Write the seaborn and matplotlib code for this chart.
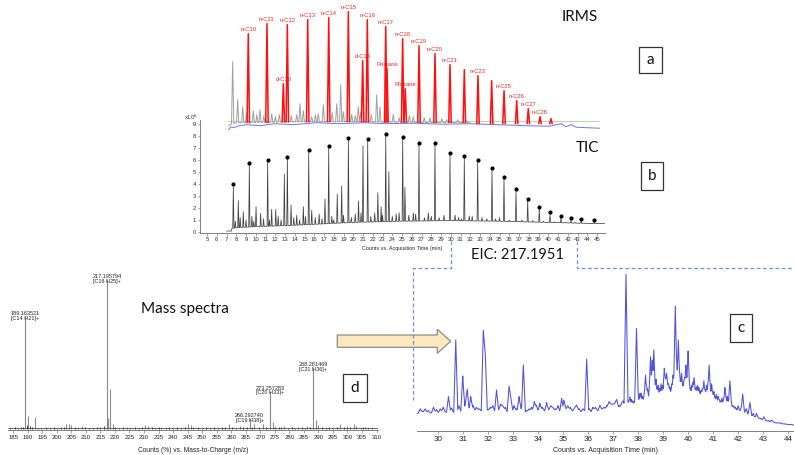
import numpy as np
import pandas as pd
import matplotlib
matplotlib.use("Agg")
import matplotlib.pyplot as plt
from matplotlib.patches import Rectangle, Polygon
import seaborn as sns

# ---------------- data ----------------
# (a) IRMS trace (time in min, signal in arbitrary units)
irms_red_labels = ["n-C10", "n-C11", "n-C12", "n-C13", "n-C14", "n-C15", "n-C16", "n-C17",
                   "n-C18", "n-C19", "n-C20", "n-C21", "", "n-C23", "", "n-C25", "n-C26",
                   "n-C27", "n-C28", "", "d-C10", "d-C16", "Pristane", "Phytane"]
irms_red_t = [9.18, 11.19, 13.38, 15.57, 17.83, 19.94, 21.98, 23.96,
              25.78, 27.54, 29.26, 30.87, 32.41, 33.88, 35.35, 36.68, 38.04,
              39.29, 40.55, 41.73, 12.95, 21.48, 24.10, 26.06]
irms_red_h = [93, 103, 102, 107, 109, 115, 107, 100,
              88, 81, 73, 62, 57, 51, 46, 36, 26,
              18, 10, 8, 43, 66, 58, 38]
irms_gray_t = [7.50, 8.04, 8.58, 9.00, 9.72, 10.10, 10.44, 10.85, 11.70, 12.10,
               12.52, 13.80, 14.39, 14.74, 15.10, 16.00, 16.40, 16.71, 17.25, 18.20,
               18.69, 19.12, 19.40, 20.30, 20.70, 21.01, 21.27, 22.40, 22.99, 23.34,
               24.77, 25.40, 26.50, 26.92, 28.10, 28.72, 30.00, 30.51, 31.70, 32.66]
irms_gray_h = [65, 27, 20, 14, 16, 12, 17, 11, 13, 10,
               12, 11, 12, 23, 16, 10, 12, 13, 22, 14,
               23, 42, 15, 12, 11, 20, 15, 12, 32, 20,
               12, 9, 11, 10, 9, 9, 8, 7, 7, 6]
irms_base_t = [7.0, 7.4, 8.0, 10.0, 14.0, 20.0, 26.0, 33.0]
irms_base_v = [1, 3, 4, 4, 5, 5, 4.5, 4]
irms_blue_t = [7.0, 7.3, 7.6, 8.2, 9.0, 10.5, 12.0, 14.0, 16.5, 19.0, 21.5, 24.0,
               27.0, 30.0, 33.0, 36.0, 39.0, 41.5, 42.9, 43.3, 43.96, 44.4, 45.5, 47.0]
irms_blue_v = [-4, 0, -1, 1, 2, 1, 3, 2, 4, 3, 4, 3,
               3.5, 2.5, 3, 2, 1, 0.5, 3, 0, 2, -0.5, -1, -1.5]
irms_green_level = 6

# (b) TIC (x10^6 counts)
tic_alk_t = [7.70, 9.34, 11.22, 13.24, 15.43, 17.48, 19.50, 21.48, 23.33, 25.07,
             26.74, 28.38, 29.92, 31.39, 32.76, 34.23, 35.46, 36.69, 37.89, 39.08,
             40.18, 41.31, 42.33, 43.36, 44.72]
tic_alk_v = [4.00, 5.78, 6.00, 6.28, 6.80, 7.17, 7.83, 7.75, 8.14, 7.94,
             7.44, 7.42, 6.58, 6.36, 5.99, 5.36, 4.58, 3.56, 2.78, 2.11,
             1.64, 1.36, 1.14, 1.06, 0.97]
tic_minor_t = [8.21, 8.72, 10.03, 10.50, 11.63, 12.05, 12.93, 13.62, 14.88, 15.74,
               17.10, 18.36, 18.81, 21.00, 20.54, 22.52, 22.86, 23.65, 25.30, 26.16,
               27.70, 30.44, 31.90, 7.90, 8.40, 9.00, 9.60, 9.80, 10.80, 11.40,
               12.30, 12.60, 13.90, 14.20, 14.50, 15.10, 16.10, 16.50, 16.80, 17.80,
               18.00, 19.00, 19.80, 20.20, 20.80, 21.80, 22.20, 23.00, 24.00, 24.40,
               24.70, 25.70, 26.40, 27.30, 28.00, 28.80, 29.30, 30.80, 31.10, 32.20,
               33.20, 33.70, 34.60, 35.00, 36.00, 37.30, 38.40, 39.50, 40.60, 41.80,
               42.80, 43.90]
tic_minor_v = [2.61, 1.69, 2.11, 1.56, 1.89, 1.89, 4.83, 2.25, 2.11, 1.80,
               2.75, 3.14, 3.83, 7.19, 2.58, 3.28, 2.10, 5.03, 3.72, 1.60,
               1.60, 1.40, 1.33, 0.90, 1.20, 1.00, 1.30, 0.90, 1.10, 1.00,
               1.30, 1.00, 1.20, 1.40, 1.00, 1.30, 1.20, 1.50, 1.10, 1.30,
               1.00, 1.40, 1.20, 1.50, 1.60, 1.30, 1.60, 1.40, 1.30, 1.50,
               1.60, 1.40, 1.50, 1.20, 1.30, 1.20, 1.40, 1.20, 1.10, 1.30,
               1.20, 1.10, 1.10, 1.20, 1.00, 1.00, 0.95, 0.90, 0.85, 0.80,
               0.80, 0.75]
tic_base_t = [7.0, 7.5, 7.55, 8.0, 10.0, 12.0, 15.0, 20.0, 25.0, 30.0, 35.0, 40.0, 45.0, 45.8]
tic_base_v = [0.08, 0.08, 0.30, 0.35, 0.45, 0.50, 0.60, 0.80, 0.90, 0.95, 0.90, 0.80, 0.70, 0.70]
tic_xticks = list(range(5, 46))
tic_yticks = list(range(0, 10))

# (c) EIC 217.1951 (relative intensity)
eic_base_t = [29.16, 30.0, 31.0, 32.0, 33.0, 34.0, 35.0, 36.0, 36.5, 37.0, 37.8,
              38.5, 39.1, 39.8, 40.5, 41.1, 41.8, 42.3, 42.6, 43.1, 43.6, 44.23]
eic_base_v = [11.1, 11.5, 12.0, 12.5, 11.5, 11.5, 11.8, 12.0, 12.2, 13.0, 13.5,
              16.0, 19.0, 20.0, 19.0, 16.0, 12.0, 10.0, 7.9, 5.8, 4.5, 3.4]
eic_peak_t = [29.50, 29.83, 30.10, 30.43, 30.72, 31.00, 31.18, 31.32, 31.55, 31.82,
              31.90, 32.10, 32.35, 32.60, 32.85, 32.93, 33.25, 33.42, 33.65, 33.86,
              34.08, 34.35, 34.60, 34.95, 35.04, 35.30, 35.55, 35.80, 35.95, 36.20,
              36.48, 36.65, 36.84, 37.00, 37.15, 37.35, 37.52, 37.68, 37.80, 37.94,
              38.08, 38.18, 38.30, 38.50, 38.57, 38.63, 38.72, 38.81, 38.92, 39.05,
              39.14, 39.22, 39.31, 39.40, 39.49, 39.61, 39.74, 39.83, 39.91, 40.00,
              40.10, 40.24, 40.33, 40.43, 40.52, 40.63, 40.74, 40.84, 40.94, 41.03,
              41.20, 41.35, 41.47, 41.57, 41.67, 41.87, 42.00, 42.18, 42.32, 42.47,
              42.60, 42.73, 42.90, 43.03, 43.20, 43.33, 43.50, 43.66, 43.90, 44.10]
eic_peak_h = [14.0, 15.0, 14.0, 21.8, 58.0, 35.0, 26.6, 21.8, 15.0, 64.3,
              49.0, 15.0, 26.0, 16.0, 28.5, 20.0, 21.8, 42.0, 14.0, 18.6,
              17.5, 18.1, 15.0, 20.7, 19.6, 15.0, 16.4, 14.0, 45.8, 15.0,
              16.4, 15.0, 18.6, 17.0, 20.0, 18.0, 99.9, 21.8, 19.0, 65.4,
              23.9, 22.0, 35.6, 47.3, 45.2, 51.6, 33.0, 29.0, 30.0, 39.9,
              36.7, 30.0, 26.0, 35.6, 79.7, 58.0, 36.7, 32.0, 42.0, 50.9,
              27.6, 34.0, 28.0, 27.6, 26.0, 31.9, 29.0, 42.0, 30.0, 25.0,
              22.0, 21.0, 27.6, 22.0, 31.9, 15.3, 16.0, 23.5, 14.0, 18.0,
              11.0, 11.1, 8.0, 9.0, 6.5, 6.8, 5.0, 5.1, 4.2, 4.0]
eic_noise_t = [29.30, 29.40, 29.62, 29.70, 29.95, 30.22, 30.30, 30.55, 30.85, 31.10,
               31.42, 31.65, 31.72, 32.00, 32.20, 32.45, 32.52, 32.70, 33.05, 33.15,
               33.35, 33.55, 33.75, 33.95, 34.18, 34.25, 34.45, 34.52, 34.70, 34.80,
               34.88, 35.12, 35.20, 35.40, 35.48, 35.65, 35.72, 35.88, 36.05, 36.12,
               36.30, 36.38, 36.57, 36.75, 36.92, 37.08, 37.25, 37.42, 37.60, 37.74,
               37.87, 38.00, 38.13, 38.24, 38.38, 38.45, 38.68, 38.77, 38.87, 38.98,
               39.10, 39.18, 39.27, 39.35, 39.45, 39.56, 39.66, 39.70, 39.79, 39.87,
               39.96, 40.05, 40.15, 40.20, 40.29, 40.38, 40.47, 40.57, 40.68, 40.79,
               40.89, 40.99, 41.08, 41.13, 41.25, 41.30, 41.40, 41.52, 41.62, 41.72,
               41.80, 41.93, 42.05, 42.12, 42.25, 42.40, 42.53, 42.66, 42.80, 42.96,
               43.10, 43.26, 43.42, 43.58, 43.75, 43.82, 44.00, 44.18]
eic_noise_h = [14.0, 12.5, 13.0, 11.0, 13.5, 15.0, 12.0, 14.5, 16.0, 17.0,
               16.0, 14.0, 13.0, 13.5, 16.0, 14.0, 17.0, 15.0, 16.0, 14.0,
               15.0, 13.0, 15.0, 16.0, 15.0, 13.0, 14.0, 16.0, 14.0, 16.0,
               13.0, 14.0, 16.0, 13.0, 15.0, 14.0, 12.0, 13.0, 14.0, 12.0,
               15.0, 13.0, 14.0, 16.0, 17.0, 18.0, 16.0, 19.0, 18.0, 20.0,
               19.0, 22.0, 24.0, 23.0, 27.0, 26.0, 31.0, 28.0, 27.0, 29.0,
               33.0, 31.0, 28.0, 30.0, 32.0, 40.0, 38.0, 33.0, 30.0, 34.0,
               36.0, 31.0, 29.0, 31.0, 27.0, 29.0, 25.0, 27.0, 26.0, 30.0,
               28.0, 24.0, 22.0, 23.0, 20.0, 19.0, 19.0, 21.0, 20.0, 18.0,
               16.0, 14.0, 13.0, 15.0, 12.0, 11.0, 10.0, 9.0, 8.5, 7.0,
               6.5, 6.0, 5.5, 5.0, 4.5, 4.4, 4.0, 3.8]
eic_xticks = list(range(30, 45))

# (d) mass spectrum (relative abundance %)
ms_mz = [189.16, 190.17, 192.50, 203.30, 204.30, 205.00, 208.50, 217.20, 217.50, 218.20,
         219.20, 224.00, 230.50, 231.20, 236.00, 245.20, 246.00, 247.00, 259.20, 263.00,
         266.29, 268.00, 271.00, 273.26, 274.30, 275.00, 278.00, 283.00, 286.00, 288.28,
         289.30, 290.00, 297.50, 300.00, 302.30, 303.00, 306.00]
ms_int = [75.1, 8.9, 7.7, 3.0, 3.0, 2.5, 2.0, 100.0, 7.0, 26.7,
          3.0, 1.5, 2.5, 2.0, 1.5, 3.5, 2.5, 1.5, 3.5, 2.0,
          7.3, 3.0, 3.5, 25.6, 4.5, 2.0, 2.0, 1.5, 2.0, 41.1,
          6.0, 2.5, 3.5, 2.0, 3.0, 2.0, 1.5]
ms_noise_mz = [184.0, 185.5, 186.8, 187.6, 188.3, 189.6, 190.6, 191.3, 193.4, 194.7,
               196.1, 197.5, 198.9, 200.2, 201.4, 202.6, 206.1, 207.4, 209.7, 211.0,
               212.3, 213.8, 215.0, 216.2, 220.1, 221.4, 222.7, 225.3, 226.8, 228.1,
               229.4, 232.6, 233.9, 235.0, 237.4, 238.7, 240.1, 241.5, 242.8, 244.0,
               248.5, 249.8, 251.2, 252.6, 254.0, 255.3, 256.7, 258.0, 260.4, 261.7,
               264.2, 265.3, 267.1, 269.6, 272.0, 276.3, 277.2, 279.5, 280.8, 282.1,
               284.4, 285.3, 287.0, 291.2, 292.5, 293.8, 295.1, 296.4, 298.8, 299.7,
               301.0, 304.5, 305.3, 307.2, 308.4]
ms_noise_int = [0.8, 1.0, 0.7, 1.2, 1.5, 2.5, 2.0, 1.4, 0.9, 0.7,
                1.1, 0.8, 1.0, 0.9, 1.3, 1.6, 1.0, 0.8, 1.2, 0.7,
                0.9, 1.1, 1.3, 1.8, 1.4, 0.9, 1.0, 0.8, 1.1, 0.9,
                1.2, 1.4, 0.9, 1.0, 0.8, 1.1, 0.9, 1.0, 0.8, 1.3,
                1.0, 0.8, 1.1, 0.9, 1.0, 0.8, 1.2, 1.4, 1.1, 0.9,
                1.3, 1.0, 1.2, 1.5, 1.1, 1.0, 1.3, 0.9, 1.1, 0.8,
                1.0, 0.9, 1.2, 1.0, 0.8, 1.1, 0.9, 1.0, 1.2, 0.9,
                1.1, 0.8, 1.0, 0.7, 0.6]
ms_label_mz = [189.16, 217.20, 266.29, 273.26, 288.28]
ms_label_text = ["189.163521\n[C14 H21]+", "217.195794\n[C16 H25]+", "266.292740\n[C19 H38]+",
                 "273.257283\n[C20 H33]+", "288.281469\n[C21 H36]+"]
ms_xticks = list(range(185, 311, 5))

# ---------------- drawing ----------------
sns.set_theme(style="white")
plt.rcParams["font.family"] = ["Liberation Sans", "DejaVu Sans"]
CALLOUT = ["Lato", "DejaVu Sans"]

W, H = 794, 455
fig = plt.figure(figsize=(W / 100, H / 100), dpi=100)
fig.patch.set_facecolor("white")


def px_axes(x0, y0, x1, y1, z=1):
    ax = fig.add_axes([x0 / W, 1 - y1 / H, (x1 - x0) / W, (y1 - y0) / H], zorder=z)
    ax.patch.set_alpha(0)
    return ax


def build_trace(base_t, base_v, pk_t, pk_h, w):
    """Upper envelope of the baseline and one narrow triangular peak per listed peak."""
    base_t = np.asarray(base_t, float)
    base_v = np.asarray(base_v, float)
    pk_t = np.asarray(pk_t, float)
    pk_h = np.asarray(pk_h, float)
    t = np.unique(np.concatenate([base_t, pk_t - w, pk_t, pk_t + w]))
    t = t[(t >= base_t.min()) & (t <= base_t.max())]
    base = np.interp(t, base_t, base_v)
    pb = np.interp(pk_t, base_t, base_v)
    frac = np.clip(1.0 - np.abs(t[:, None] - pk_t[None, :]) / w, 0.0, None)
    tri = pb[None, :] + (pk_h - pb)[None, :] * frac
    tri[frac <= 0] = -np.inf
    v = np.maximum(base, tri.max(axis=1))
    return pd.DataFrame({"t": t, "v": v})


def style_axis(ax, fs, tick_len=2.0):
    sns.despine(ax=ax, left=True, top=True, right=True)
    ax.spines["bottom"].set_color("#808080")
    ax.spines["bottom"].set_linewidth(0.7)
    ax.tick_params(axis="x", bottom=True, direction="out", length=tick_len, width=0.5,
                   colors="#808080", labelcolor="#222222", labelsize=fs, pad=1.5)
    ax.tick_params(axis="y", left=False, labelleft=False)
    ax.set_ylabel("")


# ---- (a) IRMS ----
ax_a = px_axes(228, 5, 600, 130, z=3)
gray_df = build_trace(irms_base_t, irms_base_v, irms_gray_t, irms_gray_h, 0.12)
blue_df = pd.DataFrame({"t": irms_blue_t, "v": irms_blue_v})
ax_a.axhline(irms_green_level, color="#B9D9AE", lw=0.8, zorder=1)
sns.lineplot(data=blue_df, x="t", y="v", sort=False, estimator=None, color="#7373E6",
             lw=0.7, ax=ax_a, zorder=2)
sns.lineplot(data=gray_df, x="t", y="v", sort=False, estimator=None, color="#A0A0A0",
             lw=0.7, ax=ax_a, zorder=3)
red_rows = []
for i, (t, h) in enumerate(zip(irms_red_t, irms_red_h)):
    b = float(np.interp(t, irms_base_t, irms_base_v, right=3.0))
    for dt, vv in ((-0.13, b), (0.0, h), (0.13, b)):
        red_rows.append({"peak": i, "t": t + dt, "v": vv})
red_df = pd.DataFrame(red_rows)
sns.lineplot(data=red_df, x="t", y="v", units="peak", sort=False, estimator=None,
             color="#FF1010", lw=1.1, ax=ax_a, zorder=4)
for lab, t, h in zip(irms_red_labels, irms_red_t, irms_red_h):
    if lab:
        ax_a.annotate(lab, (t, h), xytext=(0, 1.2), textcoords="offset points",
                      ha="center", va="bottom", fontsize=4.2, color="#FF2020")
ax_a.set_xlim(7, 47)
ax_a.set_ylim(-3.3, 121.7)
ax_a.axis("off")

# ---- (b) TIC ----
ax_b = px_axes(200, 120.4, 605, 233, z=2)
tic_pk_t = tic_alk_t + tic_minor_t
tic_pk_v = [v - 0.18 for v in tic_alk_v] + tic_minor_v
tic_df = build_trace(tic_base_t, tic_base_v, tic_pk_t, tic_pk_v, 0.06)
sns.lineplot(data=tic_df, x="t", y="v", sort=False, estimator=None, color="#404040",
             lw=0.55, ax=ax_b)
dots = pd.DataFrame({"t": tic_alk_t, "v": tic_alk_v})
sns.scatterplot(data=dots, x="t", y="v", color="black", s=9, linewidth=0, ax=ax_b, zorder=5)
ax_b.set_xlim(4.28, 45.82)
ax_b.set_ylim(-0.083, 9.3)
sns.despine(ax=ax_b)
for s in ("left", "bottom"):
    ax_b.spines[s].set_color("#808080")
    ax_b.spines[s].set_linewidth(0.7)
ax_b.set_xticks(tic_xticks)
ax_b.set_yticks(tic_yticks)
ax_b.tick_params(axis="both", direction="out", length=1.8, width=0.5, colors="#808080",
                 labelcolor="#333333", labelsize=4.3, pad=1.2, bottom=True, left=True)
ax_b.set_xlabel("Counts vs. Acquisition Time (min)", fontsize=3.9, labelpad=2.5,
                color="#222222")
ax_b.set_ylabel("")

# ---- (c) EIC ----
ax_c = px_axes(416.7, 268, 794, 430.7, z=2)
eic_df = build_trace(eic_base_t, eic_base_v,
                     eic_peak_t + eic_noise_t, eic_peak_h + eic_noise_h, 0.08)
sns.lineplot(data=eic_df, x="t", y="v", sort=False, estimator=None, color="#5151DA",
             lw=0.75, ax=ax_c)
ax_c.set_xlim(29.16, 44.23)
ax_c.set_ylim(0, 104)
ax_c.set_xticks(eic_xticks)
style_axis(ax_c, 5.8)
ax_c.set_xlabel("Counts vs. Acquisition Time (min)", fontsize=5.0, labelpad=3,
                color="#222222")

# ---- (d) mass spectrum ----
ax_d = px_axes(8.3, 270, 378, 430, z=2)
ax_d.vlines(ms_noise_mz, 0, ms_noise_int, color="#222222", lw=0.6)
ax_d.vlines(ms_mz, 0, ms_int, color="#8A8A8A", lw=0.8)
ax_d.axhline(0.5, color="#333333", lw=0.5)
heights = dict(zip(ms_mz, ms_int))
for mz, txt in zip(ms_label_mz, ms_label_text):
    ax_d.annotate(txt, (mz, heights[mz]), xytext=(0, -3.5), textcoords="offset points",
                  ha="center", va="bottom", fontsize=4.0, color="#222222",
                  linespacing=0.95)
ax_d.set_xlim(183.3, 310.5)
ax_d.set_ylim(-0.7, 106)
ax_d.set_xticks(ms_xticks)
style_axis(ax_d, 4.3)
ax_d.set_xlabel("Counts (%) vs. Mass-to-Charge (m/z)", fontsize=4.8, labelpad=5,
                color="#222222")

# ---- overlay: callouts, arrow, dashed zoom lines ----
ov = fig.add_axes([0, 0, 1, 1], zorder=10)
ov.set_xlim(0, W)
ov.set_ylim(H, 0)
ov.axis("off")
ov.patch.set_alpha(0)

ov.add_patch(Polygon([(337.3, 335), (437.3, 335), (437.3, 329.3), (450.7, 341.2),
                      (437.3, 353.3), (437.3, 347.3), (337.3, 347.3)], closed=True,
                     fc="#FDE8BD", ec="#8C8C8C", lw=0.9))
dash_kw = dict(color="#6E93D8", lw=0.9, ls=(0, (3, 2)))
ov.plot([450.7, 450.7, 412.7, 412.7], [241, 268.3, 268.3, 400], **dash_kw)
ov.plot([576.7, 576.7, 794], [241, 268.3, 268.3], **dash_kw)

for (x0, y0, x1, y1, letter) in [(639, 46.7, 661.7, 73.3, "a"), (640.7, 161.7, 663.3, 190, "b"),
                                 (730, 314, 752.3, 341.7, "c"), (343.3, 374.3, 366.7, 401.7, "d")]:
    ov.add_patch(Rectangle((x0, y0), x1 - x0, y1 - y0, fc="white", ec="#333333", lw=0.9))
    ov.text((x0 + x1) / 2, (y0 + y1) / 2, letter, ha="center", va="center",
            fontsize=11, family=CALLOUT, color="#111111")

ov.text(580, 17, "IRMS", ha="center", va="center", fontsize=11, family=CALLOUT, color="#111111")
ov.text(587, 148.5, "TIC", ha="center", va="center", fontsize=11, family=CALLOUT, color="#111111")
ov.text(517.5, 255, "EIC: 217.1951", ha="center", va="center", fontsize=10.5, family=CALLOUT,
        color="#111111")
ov.text(185, 309, "Mass spectra", ha="center", va="center", fontsize=11, family=CALLOUT,
        color="#111111")
ov.text(191, 117, r"x10$^6$", ha="center", va="center", fontsize=4.2, color="#333333")

fig.savefig("out.png", dpi=100)
